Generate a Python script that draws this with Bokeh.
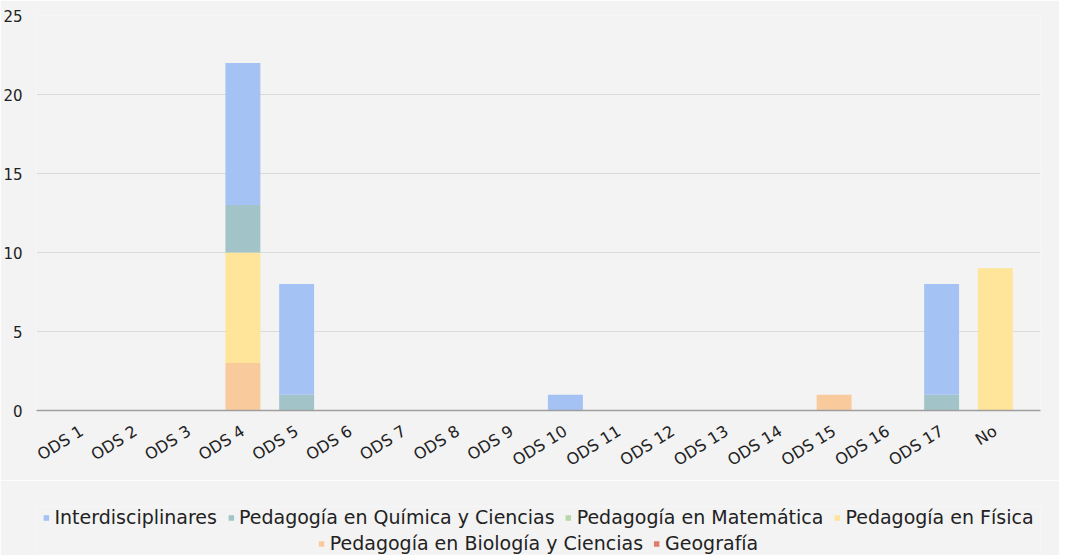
from bokeh.plotting import figure
from bokeh.models import Legend, LegendItem, FactorRange, SingleIntervalTicker
from bokeh.layouts import column
from bokeh.embed import file_html
from bokeh.resources import INLINE
import math

categories = ["ODS 1", "ODS 2", "ODS 3", "ODS 4", "ODS 5", "ODS 6", "ODS 7", "ODS 8", "ODS 9",
              "ODS 10", "ODS 11", "ODS 12", "ODS 13", "ODS 14", "ODS 15", "ODS 16", "ODS 17", "No"]
interdisciplinares = [0, 0, 0, 9, 7, 0, 0, 0, 0, 1, 0, 0, 0, 0, 0, 0, 7, 0]
quimica =            [0, 0, 0, 3, 1, 0, 0, 0, 0, 0, 0, 0, 0, 0, 0, 0, 1, 0]
matematica =         [0, 0, 0, 0, 0, 0, 0, 0, 0, 0, 0, 0, 0, 0, 0, 0, 0, 0]
fisica =             [0, 0, 0, 7, 0, 0, 0, 0, 0, 0, 0, 0, 0, 0, 0, 0, 0, 9]
biologia =           [0, 0, 0, 3, 0, 0, 0, 0, 0, 0, 0, 0, 0, 0, 1, 0, 0, 0]
geografia =          [0, 0, 0, 0, 0, 0, 0, 0, 0, 0, 0, 0, 0, 0, 0, 0, 0, 0]

series_names = ["Interdisciplinares", "Pedagogía en Química y Ciencias", "Pedagogía en Matemática",
                "Pedagogía en Física", "Pedagogía en Biología y Ciencias", "Geografía"]
series_colors = ["#a4c2f4", "#a2c4c9", "#b6d7a8", "#ffe599", "#f9cb9c", "#dd7e6b"]

data = {
    "cat": categories,
    "Interdisciplinares": interdisciplinares,
    "Pedagogía en Química y Ciencias": quimica,
    "Pedagogía en Matemática": matematica,
    "Pedagogía en Física": fisica,
    "Pedagogía en Biología y Ciencias": biologia,
    "Geografía": geografia,
}

FONT = "DejaVu Sans"
BG = "#f3f3f3"
TEXT = "#222222"

stack_order = list(reversed(series_names))   # bottom-to-top
stack_colors = list(reversed(series_colors))

p = figure(
    x_range=FactorRange(*categories, range_padding=0.34, range_padding_units="absolute"),
    y_range=(0, 25),
    width=1059, height=480,
    output_backend="svg", toolbar_location=None,
    background_fill_color=BG, border_fill_color=BG,
    min_border_left=29, min_border_right=19, min_border_top=15, min_border_bottom=0,
)
p.outline_line_color = None
p.vbar_stack(stack_order, x="cat", width=0.65, source=data,
             color=stack_colors, line_color=None)

p.xgrid.grid_line_color = None
p.ygrid.grid_line_color = "#dadada"
p.ygrid.grid_line_width = 1

p.yaxis.ticker = SingleIntervalTicker(interval=5)
p.yaxis.axis_line_color = None
p.yaxis.major_tick_line_color = None
p.yaxis.minor_tick_line_color = None
p.yaxis.major_label_text_font = FONT
p.yaxis.major_label_text_font_size = "15px"
p.yaxis.major_label_text_color = TEXT
p.yaxis.major_label_standoff = 8

p.xaxis.axis_line_color = "#9e9e9e"
p.xaxis.axis_line_width = 1.5
p.xaxis.major_tick_line_color = None
p.xaxis.minor_tick_line_color = None
p.xaxis.major_label_orientation = math.radians(32)
p.xaxis.major_label_text_font = FONT
p.xaxis.major_label_text_font_size = "16px"
p.xaxis.major_label_text_color = TEXT
p.xaxis.major_label_standoff = 13

# legend strip below the chart (hidden copies of the series provide legend swatches)
lf = figure(x_range=FactorRange(*categories), y_range=(0, 25),
            width=1059, height=75, output_backend="svg", toolbar_location=None,
            background_fill_color=BG, border_fill_color=BG,
            min_border_left=0, min_border_right=0, min_border_top=26, min_border_bottom=1,
            x_axis_type=None, y_axis_type=None)
lf.outline_line_color = None
lf.xgrid.grid_line_color = None
lf.ygrid.grid_line_color = None
lrs = lf.vbar_stack(stack_order, x="cat", width=0.65, source=data,
                    color=stack_colors, line_color=None)
lrmap = dict(zip(stack_order, lrs))
for r in lrs:
    r.visible = False

def make_legend(names, loc):
    items = [LegendItem(label=n, renderers=[lrmap[n]]) for n in names]
    return Legend(items=items, orientation="horizontal", location=loc,
                  label_text_font=FONT, label_text_font_size="19px", label_text_color=TEXT,
                  glyph_width=7, glyph_height=7, label_standoff=5, spacing=10,
                  padding=0, margin=0, border_line_color=None, background_fill_alpha=0,
                  inactive_fill_alpha=0, label_height=16, click_policy="none")

lf.add_layout(make_legend(series_names[:4], "top_center"))
lf.add_layout(make_legend(series_names[4:], "bottom_center"))

layout = column(p, lf, spacing=0)
open("out.html", "w").write(file_html(layout, INLINE))
